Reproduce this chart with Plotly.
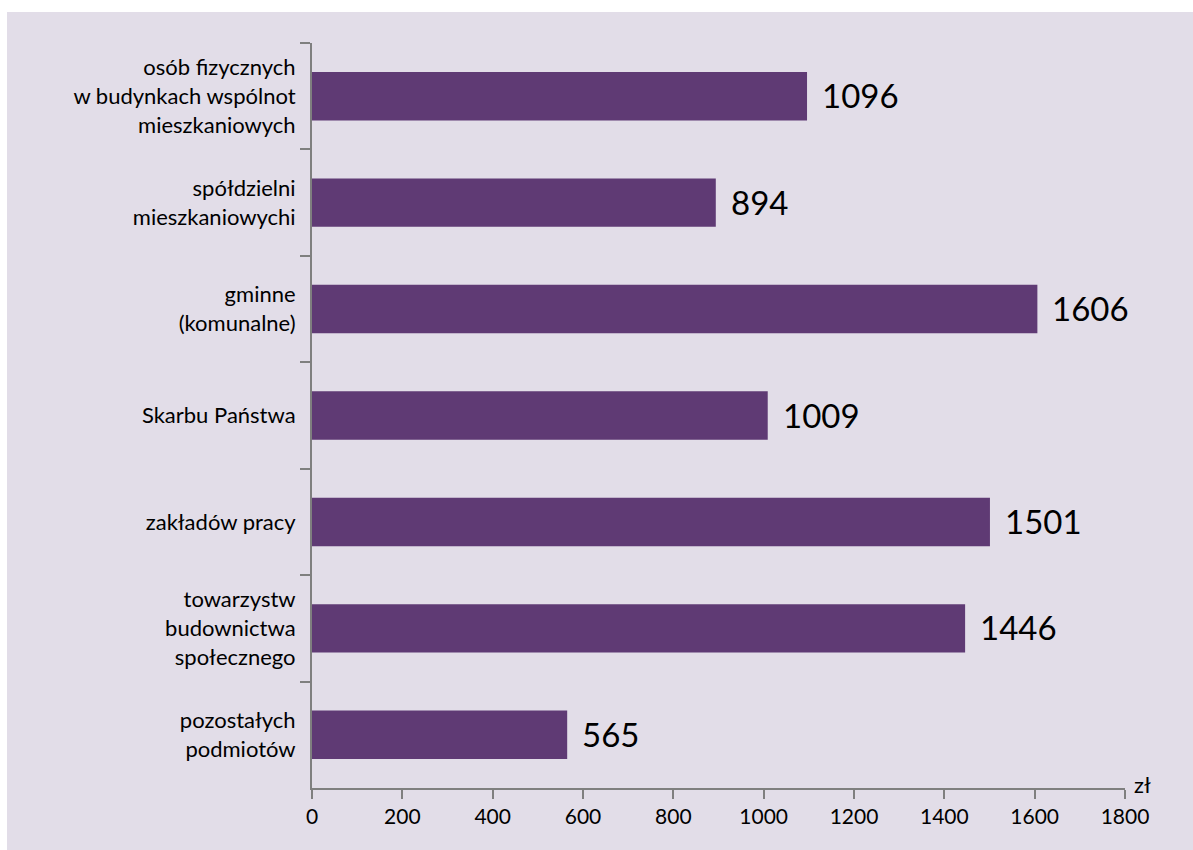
import plotly.graph_objects as go

categories = [
    "osób fizycznych<br>w budynkach wspólnot<br>mieszkaniowych",
    "spółdzielni<br>mieszkaniowychi",
    "gminne<br>(komunalne)",
    "Skarbu Państwa",
    "zakładów pracy",
    "towarzystw<br>budownictwa<br>społecznego",
    "pozostałych<br>podmiotów",
]
values = [1096, 894, 1606, 1009, 1501, 1446, 565]
x_ticks = [0, 200, 400, 600, 800, 1000, 1200, 1400, 1600, 1800]

BG = "#e2dde8"
BAR = "#5f3a74"
AXIS = "#7f7f7f"
FONT = "Lato"

W, H = 1193, 850
ml, mr, mt, mb = 312, 68, 43, 62
pw = W - ml - mr
ph = H - mt - mb

fig = go.Figure(go.Bar(
    x=values, y=categories, orientation="h",
    marker=dict(color=BAR, line=dict(width=0)),
    width=0.455,
    hoverinfo="x+y",
))

annotations = [dict(
    text=str(v), x=v, y=c, xref="x", yref="y",
    xanchor="left", yanchor="middle", xshift=13, yshift=1,
    showarrow=False, font=dict(family=FONT, size=33, color="#000000"),
) for c, v in zip(categories, values)]
annotations.append(dict(
    text="zł", xref="paper", yref="paper", x=1, y=0,
    xanchor="left", yanchor="middle", xshift=7, yshift=4,
    showarrow=False, font=dict(family=FONT, size=22, color="#000000"),
))

fig.update_layout(
    width=W, height=H,
    margin=dict(l=ml, r=mr, t=mt, b=mb),
    paper_bgcolor="white",
    plot_bgcolor=BG,
    showlegend=False,
    font=dict(family=FONT, color="#000000"),
    shapes=[dict(
        type="rect", xref="paper", yref="paper",
        x0=(7 - ml) / pw, x1=(W - ml) / pw,
        y0=-mb / ph, y1=(H - mb - 12) / ph,
        fillcolor=BG, line=dict(width=0), layer="below",
    )],
    annotations=annotations,
)

fig.update_xaxes(
    range=[0, 1800], tickvals=x_ticks, ticktext=[str(t) for t in x_ticks],
    showgrid=False, zeroline=False,
    showline=True, linecolor=AXIS, linewidth=2,
    ticks="outside", ticklen=9, tickwidth=2, tickcolor=AXIS,
    tickfont=dict(family=FONT, size=21, color="#000000"),
    fixedrange=True,
)
fig.update_yaxes(
    autorange="reversed", type="category",
    showgrid=False, zeroline=False,
    showline=True, linecolor=AXIS, linewidth=2,
    ticks="outside", ticklen=10, tickwidth=2, tickcolor=AXIS,
    tickson="boundaries",
    tickfont=dict(family=FONT, size=22, color="#000000"),
    ticklabelstandoff=10,
    fixedrange=True,
)

fig.write_html("out.html")
